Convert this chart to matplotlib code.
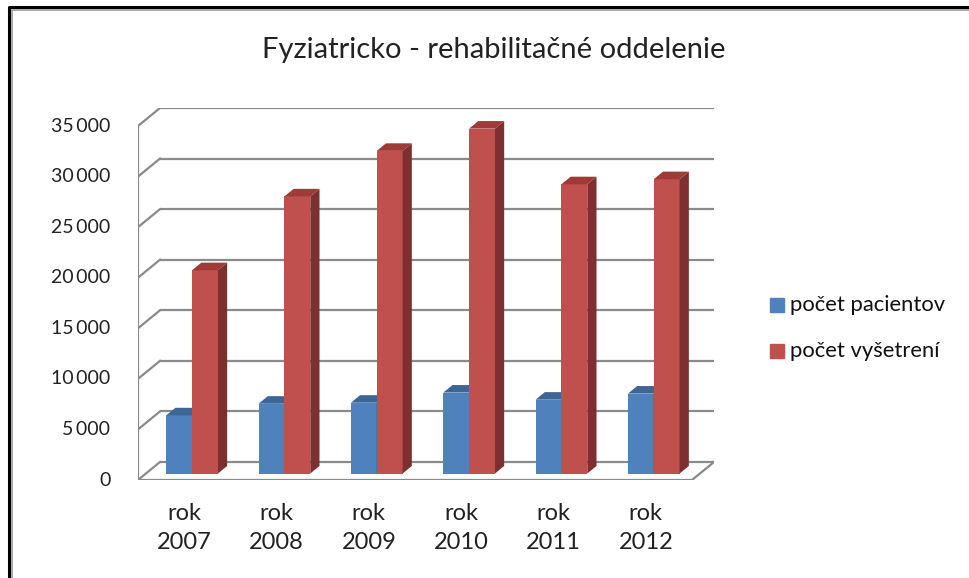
import matplotlib
matplotlib.use("Agg")
import matplotlib.pyplot as plt
from matplotlib.patches import Polygon
from matplotlib.lines import Line2D

plt.rcParams['font.family'] = ['Lato', 'DejaVu Sans']

title = "Fyziatricko - rehabilitačné oddelenie"
years = ["rok\n2007", "rok\n2008", "rok\n2009", "rok\n2010", "rok\n2011", "rok\n2012"]
series_names = ["počet pacientov", "počet vyšetrení"]
pacienti = [5750, 6900, 7000, 8000, 7300, 7900]
vysetrenia = [20100, 27400, 31900, 34100, 28600, 29100]
yticks = [0, 5000, 10000, 15000, 20000, 25000, 30000, 35000]

W, H = 970, 578
fig = plt.figure(figsize=(W / 100, H / 100), dpi=100)

# axes = front plane of the 3D box; back plane is shifted by (dx, dy)
n = len(years)
dx = 0.238          # depth shift in category units
dy = 1780           # depth shift in value units
ymax = 35000
left_px, right_px, bot_px, top_px = 138, 714, 480, 108
ax = fig.add_axes([left_px / W, 1 - bot_px / H, (right_px - left_px) / W, (bot_px - top_px) / H])
ax.set_xlim(0, n + dx)
ax.set_ylim(0, ymax + dy)
ax.axis('off')

grid_c = '#8a8a8a'
# back wall gridlines + left wall slants
for v in yticks:
    ax.plot([dx, n + dx], [v + dy, v + dy], color=grid_c, lw=1.6, zorder=1, solid_capstyle='butt')
    ax.plot([0, dx], [v, v + dy], color=grid_c, lw=1.6, zorder=1)
# left wall front edge and floor
ax.plot([0, 0], [0, ymax], color=grid_c, lw=1.6, zorder=1)
ax.plot([0, n], [0, 0], color=grid_c, lw=1.6, zorder=1)
ax.plot([n, n + dx], [0, dy], color=grid_c, lw=1.6, zorder=1)

# y tick labels (front plane)
for v in yticks:
    ax.text(-0.3, v, f"{v:,}".replace(",", "\u2009"), ha='right', va='center', fontsize=14, color='#222222')

# category labels
for i, lab in enumerate(years):
    ax.text(i + 0.5, -2300, lab, ha='center', va='top', fontsize=17, color='#222222', linespacing=1.45)

# bars with fake 3D faces
f = 0.36      # front of bar in depth fraction
bd = 0.42     # bar depth fraction
bw = 0.28
base = f * dy
colors = [('#4F81BD', '#3D6696', '#2F5178'), ('#C0504D', '#9E3B38', '#7D302F')]
for i in range(n):
    for k, vals in enumerate([pacienti, vysetrenia]):
        fc, tc, sc = colors[k]
        x0 = i + 0.5 + f * dx + (k - 1) * bw
        x1 = x0 + bw
        top = base + vals[i]
        z = 3 + k
        ax.bar(x0, vals[i], width=bw, bottom=base, align='edge', color=fc, zorder=z, lw=0)
        ax.add_patch(Polygon([(x0, top), (x1, top), (x1 + bd * dx, top + bd * dy), (x0 + bd * dx, top + bd * dy)],
                             closed=True, color=tc, zorder=z, lw=0))
        ax.add_patch(Polygon([(x1, base), (x1, top), (x1 + bd * dx, top + bd * dy), (x1 + bd * dx, base + bd * dy)],
                             closed=True, color=sc, zorder=z, lw=0))

# title
fig.text(494 / W, 1 - 50 / H, title, ha='center', va='center', fontsize=21, color='#222222')

# legend
for k, name in enumerate(series_names):
    yc = 305 + k * 46
    fig.patches.append(plt.Rectangle((770 / W, 1 - (yc + 7) / H), 14 / W, 14 / H,
                                     transform=fig.transFigure, color=colors[k][0]))
    fig.text(790 / W, 1 - yc / H, name, ha='left', va='center', fontsize=15.8, color='#111111')

# outer frame (left and top visible)
fig.add_artist(Line2D([9 / W, 9 / W, 1.0], [0, 1 - 7 / H, 1 - 7 / H], transform=fig.transFigure,
                      color='black', lw=2.2))
fig.add_artist(Line2D([12 / W, 12 / W, 1.0], [0, 1 - 9.5 / H, 1 - 9.5 / H], transform=fig.transFigure,
                      color='#9a9a9a', lw=1.2))

fig.savefig("out.png", dpi=100, facecolor='white')
